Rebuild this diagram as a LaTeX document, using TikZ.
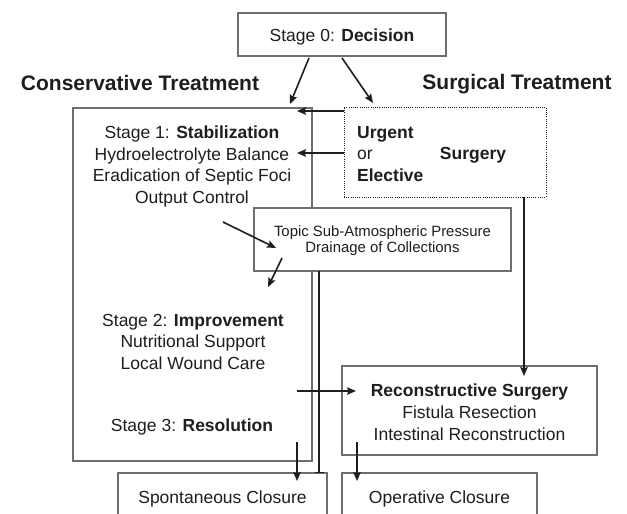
\documentclass[tikz,border=0pt]{standalone}
\usepackage{fontspec}
\setmainfont{Liberation Sans}
\usetikzlibrary{arrows.meta,calc}
\newcommand\fmain{\fontsize{17.5}{21.7}\selectfont}
\newcommand\fhead{\fontsize{21}{25}\selectfont\bfseries}
\newcommand\fsmall{\fontsize{14.9}{16}\selectfont}
\definecolor{boxgray}{HTML}{6E6E6E}
\definecolor{ink}{HTML}{1E1E1E}
\begin{document}
\begin{tikzpicture}[x=1pt,y=-1pt,
 box/.style={draw=boxgray, line width=1.1pt, fill=white, inner sep=0pt},
 dotbox/.style={draw=ink, line width=1pt, dash pattern=on 1pt off 1.2pt, fill=white, inner sep=0pt},
 txt/.style={inner sep=0pt, align=center, text=ink},
 arr/.style={draw=ink, line width=1.6pt, -{Stealth[length=9pt,width=7.5pt,inset=1.5pt]}},
 tbar/.style={draw=ink, line width=1.4pt, -{Bar[width=9pt,line width=1.4pt]}},
]
\useasboundingbox (0,0) rectangle (627,514);
\clip (0,0) rectangle (627,514);
\fill[white] (0,0) rectangle (627,514);

% boxes
\node[box, minimum width=208pt, minimum height=43pt] (dec) at (342,34.5) {};
\node[box, minimum width=239pt, minimum height=353pt] (big) at (192.5,284.5) {};
\node[dotbox, minimum width=202pt, minimum height=90pt] (dot) at (445,152) {};
\node[box, minimum width=257pt, minimum height=63pt] (topic) at (382.5,239.5) {};
\node[box, minimum width=255pt, minimum height=89pt] (recon) at (469.5,410.5) {};
\node[box, minimum width=209pt, minimum height=52pt] (spont) at (222.5,499) {};
\node[box, minimum width=195pt, minimum height=52pt] (oper) at (439.5,499) {};

% texts
\node[txt, font=\fmain, anchor=base] (t0) at (342,41.3) {Stage 0: \textbf{Decision}};
\node[txt, font=\fhead, anchor=base] (hc) at (140,90.6) {Conservative Treatment};
\node[txt, font=\fhead, anchor=base] (hs) at (517,89.6) {Surgical Treatment};
\node[txt, font=\fmain, anchor=north] (s1) at (192,125.5) {Stage 1: \textbf{Stabilization}\\Hydroelectrolyte Balance\\Eradication of Septic Foci\\Output Control};
\node[txt, font=\fmain, align=left, anchor=north west] (ue) at (357,125.8) {\textbf{Urgent}\\or\\\textbf{Elective}};
\node[txt, font=\fmain\bfseries, anchor=base] (sg) at (473,159.3) {Surgery};
\node[txt, font=\fsmall, anchor=north] (tp) at (382.5,225.4) {Topic Sub-Atmospheric Pressure\\Drainage of Collections};
\node[txt, font=\fmain, anchor=north] (s2) at (193,313.8) {Stage 2: \textbf{Improvement}\\Nutritional Support\\Local Wound Care};
\node[txt, font=\fmain, anchor=base] (s3) at (192,431.3) {Stage 3: \textbf{Resolution}};
\node[txt, font=\fmain, anchor=north] (rc) at (469.5,383.8) {\textbf{Reconstructive Surgery}\\Fistula Resection\\Intestinal Reconstruction};
\node[txt, font=\fmain, anchor=base] (sp) at (222.5,503.3) {Spontaneous Closure};
\node[txt, font=\fmain, anchor=base] (op) at (439.5,503.3) {Operative Closure};

% connector end points
\coordinate (a1s) at (309,58);  \coordinate (a1e) at (290,104);
\coordinate (a2s) at (342,58);  \coordinate (a2e) at (373,103);
\coordinate (a3s) at (344,111); \coordinate (a3e) at (297,111);
\coordinate (a4s) at (344,153); \coordinate (a4e) at (297,153);
\coordinate (a5s) at (223,222); \coordinate (a5e) at (276,248);
\coordinate (a6s) at (282,258); \coordinate (a6e) at (268,287);
\coordinate (a7s) at (524,197); \coordinate (a7e) at (524,376);
\coordinate (a8s) at (297,391); \coordinate (a8e) at (356,391);
\coordinate (a9s) at (297,442); \coordinate (a9e) at (297,481);
\coordinate (a10s) at (357,442); \coordinate (a10e) at (357,481);
\coordinate (tls) at (319,271); \coordinate (tle) at (319,473);

% connectors
\draw[arr] (a1s) -- (a1e);
\draw[arr] (a2s) -- (a2e);
\draw[arr] (a3s) -- (a3e);
\draw[arr] (a4s) -- (a4e);
\draw[arr] (a5s) -- (a5e);
\draw[arr] (a6s) -- (a6e);
\draw[arr] (a7s) -- (a7e);
\draw[tbar] (tls) -- (tle);
\draw[arr] (a8s) -- (a8e);
\draw[arr] (a9s) -- (a9e);
\draw[arr] (a10s) -- (a10e);
\end{tikzpicture}
\end{document}
